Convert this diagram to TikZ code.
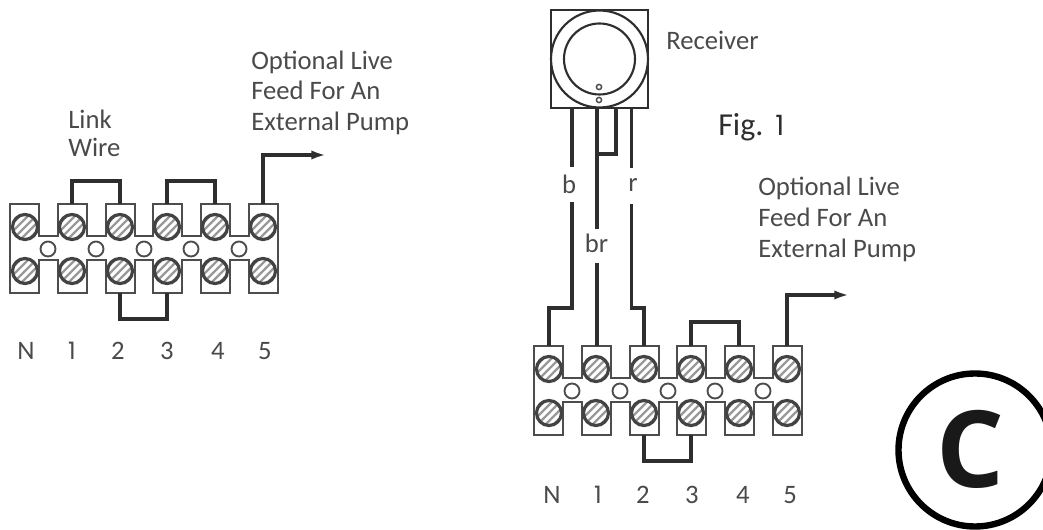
\documentclass[tikz,border=0pt]{standalone}
\usepackage{fontspec}
\setmainfont{Carlito}
\newfontfamily\digitfont{Poppins}
\newfontfamily\boldfont{Open Sans}[BoldFont=* Bold]
\usetikzlibrary{arrows.meta}
\definecolor{ink}{HTML}{2E2E2E}
\definecolor{txt}{HTML}{4A4A4A}
\tikzset{
  outline/.style={draw=ink!85!white,line width=1.5pt,line join=miter},
  wire/.style={draw=ink,line width=2.3pt,line join=miter},
  hole/.style={draw=ink!85!white,fill=white,line width=1.4pt},
  screwrim/.style={draw=ink!90!white,line width=2.4pt},
  hatch/.style={draw=black!40,line width=1.8pt},
  label/.style={text=txt,font=\fontsize{20}{23}\selectfont,inner sep=0pt,align=left},
  pointer/.style={wire,-{Latex[length=11pt,width=7pt]}}
}
\newcommand{\screw}[3]{%
  \begin{scope}
    \clip (#1,#2) circle (12.5);
    \foreach \k in {-24,-16,...,24}
      \draw[hatch] ({#1-16+\k},{#2+16}) -- ({#1+16+\k},{#2-16});
  \end{scope}
  \draw[screwrim] (#1,#2) circle (12.5);
  \coordinate (#3) at (#1,#2);
}
% #1 prefix, #2 x of left edge, #3 y of top edge
\newcommand{\termblock}[3]{%
  \begin{scope}[shift={(#2,#3)}]
    \draw[outline,fill=white]
      (0,0) -- (29,0) -- (29,32) -- (48,32) -- (48,0) -- (77,0) -- (77,32) -- (96,32) -- (96,0)
      -- (125,0) -- (125,32) -- (143,32) -- (143,0) -- (172,0) -- (172,32) -- (191,32) -- (191,0)
      -- (220,0) -- (220,32) -- (239,32) -- (239,0) -- (268,0)
      -- (268,89) -- (239,89) -- (239,56) -- (220,56) -- (220,89) -- (191,89) -- (191,56)
      -- (172,56) -- (172,89) -- (143,89) -- (143,56) -- (125,56) -- (125,89) -- (96,89)
      -- (96,56) -- (77,56) -- (77,89) -- (48,89) -- (48,56) -- (29,56) -- (29,89) -- (0,89) -- cycle;
    \foreach \i/\cx in {1/15,2/62,3/110,4/157,5/205,6/253}{
      \screw{\cx}{23}{#1-t\i}
      \screw{\cx}{67}{#1-b\i}
      \coordinate (#1-top\i) at (\cx,0);
      \coordinate (#1-bot\i) at (\cx,89);
    }
    \foreach \cx in {38,86,134,181,229}
      \draw[hole] (\cx,45) circle (7.5);
  \end{scope}
}
\begin{document}
\begin{tikzpicture}[x=0.75pt,y=-0.75pt]
\useasboundingbox (0,0) rectangle (1043,530);
\clip (0,0) rectangle (1043,530);

% left block
\termblock{L}{10}{204}
\draw[wire] (L-top2) -- ++(0,-23) -| (L-top3);
\draw[wire] (L-top4) -- ++(0,-23) -| (L-top5);
\draw[wire] (L-bot3) -- ++(0,26) -| (L-bot4);
\coordinate (Lend) at (326,155);
\draw[pointer] (L-top6) |- (Lend);

\node[label,font=\fontsize{20}{21}\selectfont,anchor=north west] (linkwire) at (68,110) {Link\\Wire};
\node[label,anchor=north west] (livefeedL) at (251,50.5) {Optional Live\\Feed For An\\External Pump};
\foreach \n/\t/\x in {lN/N/26,l1/{\digitfont\fontsize{18}{18}\selectfont 1}/72,l2/2/118,l3/3/167,l4/4/218,l5/5/265}
  \node[label] (\n) at (\x,351) {\t};

% right block
\termblock{R}{534}{346}
\draw[wire] (R-top4) -- ++(0,-24) -| (R-top5);
\draw[wire] (R-bot3) -- ++(0,26) -| (R-bot4);
\coordinate (Rend) at (849,295);
\draw[pointer] (R-top6) |- (Rend);

\node[label,anchor=north west] (livefeedR) at (758,177) {Optional Live\\Feed For An\\External Pump};
\foreach \n/\t/\x in {rN/N/552,r1/{\digitfont\fontsize{18}{18}\selectfont 1}/598,r2/2/643,r3/3/692,r4/4/743,r5/5/790}
  \node[label] (\n) at (\x,495) {\t};

% receiver
\node[draw=ink,line width=1.6pt,minimum size=73pt,inner sep=0pt] (rx) at (599.5,59) {};
\draw[draw=ink,line width=1.6pt] (599.5,59) circle (48.5);
\draw[draw=ink,line width=1.6pt] (599.5,59) circle (35.5);
\draw[hole,line width=1.1pt] (599,87) circle (2.6);
\draw[hole,line width=1.1pt] (599,100) circle (2.6);

\node[label,anchor=west] (receiver) at (666,40) {Receiver};
\node[label,font=\fontsize{24}{23}\selectfont,text=ink,anchor=west] (fig) at (718,127) {Fig.\hspace{9pt}{\digitfont\fontsize{21}{21}\selectfont 1}};

% wire labels
\node[label] (lb) at (569,184) {b};
\node[label] (lbr) at (596.5,243) {br};
\node[label] (lr) at (633,185) {r};

% receiver wires
\coordinate (bt) at (572,107);
\coordinate (brt) at (597,107);
\coordinate (lkt) at (616,107);
\coordinate (rt) at (631.5,107);
\coordinate (bm) at (572,202);
\coordinate (brm) at (597,263);
\coordinate (rm) at (631.5,204);
\coordinate (bj) at (572,308);
\coordinate (rj) at (631.5,308);
\draw[wire] (bt) -- (572,167);
\draw[wire] (bm) -- (bj) -| (R-top1);
\draw[wire] (brt) -- (597,229);
\draw[wire] (brm) -- (brm |- R-top2);
\draw[wire] (lkt) -- (616,154) -- (597,154);
\draw[wire] (rt) -- (631.5,168);
\draw[wire] (rm) -- (rj) -| (R-top3);

% circled C
\draw[draw=black,line width=4.8pt] (975,450) circle (76.5);
\node[inner sep=0pt,text=black!90!white,font=\boldfont\bfseries\fontsize{80}{80}\selectfont] (cmark) at (970,449) {C};
\end{tikzpicture}
\end{document}
